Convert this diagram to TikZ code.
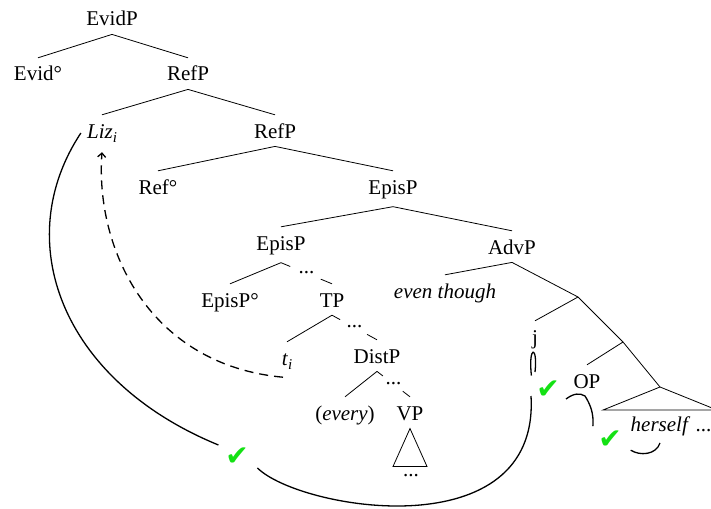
\documentclass[tikz,border=0pt]{standalone}
\usepackage{fontspec}
\setmainfont{Liberation Serif}
\newfontfamily\checkfont{DejaVu Sans}
\usetikzlibrary{calc,arrows.meta}
\definecolor{tickgreen}{RGB}{20,225,20}
\newcommand{\subidx}[1]{\raisebox{-4pt}{\fontsize{15}{15}\selectfont\textit{#1}}}

\begin{document}
\begin{tikzpicture}
  [x=1pt, y=-1pt,
   every node/.style={font=\fontsize{21}{25}\selectfont, inner sep=0pt, text height=14pt, anchor=base},
   branch/.style={line width=0.8pt},
   link/.style={line width=1.3pt},
   tick/.style={circle, minimum size=45pt, anchor=center, text=tickgreen,
                font=\checkfont\fontsize{28}{28}\selectfont}]
  \useasboundingbox (0,0) rectangle (711,508);

  % tree nodes
  \node (evidp)  at (112,26)  {EvidP};
  \node (evid)   at (38,81)   {Evid°};
  \node (refpa)  at (188,81)  {RefP};
  \node (liz)    at (102,138) {\textit{Liz}\subidx{i}};
  \node (refpb)  at (275,138) {RefP};
  \node (ref)    at (158,194) {Ref°};
  \node (episp)  at (393,194) {EpisP};
  \node (episq)  at (281,250) {EpisP};
  \node (advp)   at (512,254) {AdvP};
  \node (episc)  at (230,307) {EpisP°};
  \node (tp)     at (332,307) {TP};
  \node (ti)     at (287,365) {\textit{t}\subidx{i}};
  \node (distp)  at (377,363) {DistP};
  \node (every)  at (345,420) {(\textit{every})};
  \node (vp)     at (410,420) {VP};
  \node (vpdots) at (411,476) {...};
  \node (though) at (445,298) {\textit{even though}};
  \node (j)      at (535,344) {j};
  \node (op)     at (587,388) {OP};
  \node (herself) at (671,431) {\textit{herself} ...};

  % checks
  \node[tick] (chka) at (237,458) {✔};
  \node[tick] (chkb) at (548,391) {✔};
  \node[tick] (chkc) at (610,441) {✔};

  % branches
  \foreach \p/\c in {evidp/evid, evidp/refpa, refpa/liz, refpa/refpb, refpb/ref,
                     refpb/episp, episp/episq, episp/advp, episq/episc, tp/ti,
                     distp/every, advp/though}
    \draw[branch] ([yshift=-8pt]\p.south) -- ([yshift=9pt]\c.north);

  \foreach \p/\c in {episq/tp, tp/distp, distp/vp} {
    \coordinate (top-\c) at ([yshift=-8pt]\p.south);
    \coordinate (end-\c) at ([yshift=9pt]\c.north);
    \draw[branch] (top-\c) -- ($(top-\c)!.18!(end-\c)$);
    \draw[branch] ($(top-\c)!.78!(end-\c)$) -- (end-\c);
    \node (dots-\c) at ($(top-\c)!.5!(end-\c)$) {...};
  }

  \draw[branch] ([yshift=-8pt]vp.south) -- ++(-17,38) -- ++(34,0) -- cycle;

  \coordinate (b1) at (578,297);
  \coordinate (b2) at (623,342);
  \coordinate (b3) at (660,387);
  \draw[branch] ([yshift=-8pt]advp.south) -- (b1) -- (b2) -- (b3);
  \draw[branch] (b1) -- ([yshift=9pt]j.north);
  \draw[branch] (b2) -- ([yshift=9pt]op.north);
  \draw[branch] (b3) -- ++(57,23) -- ++(-114,0) -- cycle;

  % binding curves
  \draw[link] ([xshift=-6pt]liz.west) .. controls (10,240) and (60,380) .. (chka.145);
  \draw[link] (chka.334) .. controls (300,510) and (540,550) .. ([shift={(-17pt,-5pt)}]chkb.center);
  \coordinate (lens) at (535,372);
  \draw[link] (chkb.137) .. controls (528,345) and (538,345) .. (lens);

  \coordinate (ophook) at ([shift={(-21pt,-11pt)}]op.base);
  \coordinate (hsf) at ([shift={(-11pt,-12pt)}]herself.base);
  \draw[link] (ophook) .. controls (574,393) and (580,393) .. (585,396)
    .. controls (590,404) and (594,413) .. (chkc.139);
  \draw[link] (chkc.336) .. controls (640,456) and (656,455) .. (hsf);

  % movement
  \draw[link, dash pattern=on 9pt off 6pt, -{Straight Barb[length=4pt,width=8pt]}]
    ([shift={(-4pt,-8pt)}]ti.south) .. controls (150,365) and (95,250) .. ([yshift=-10pt]liz.south);

\end{tikzpicture}
\end{document}
